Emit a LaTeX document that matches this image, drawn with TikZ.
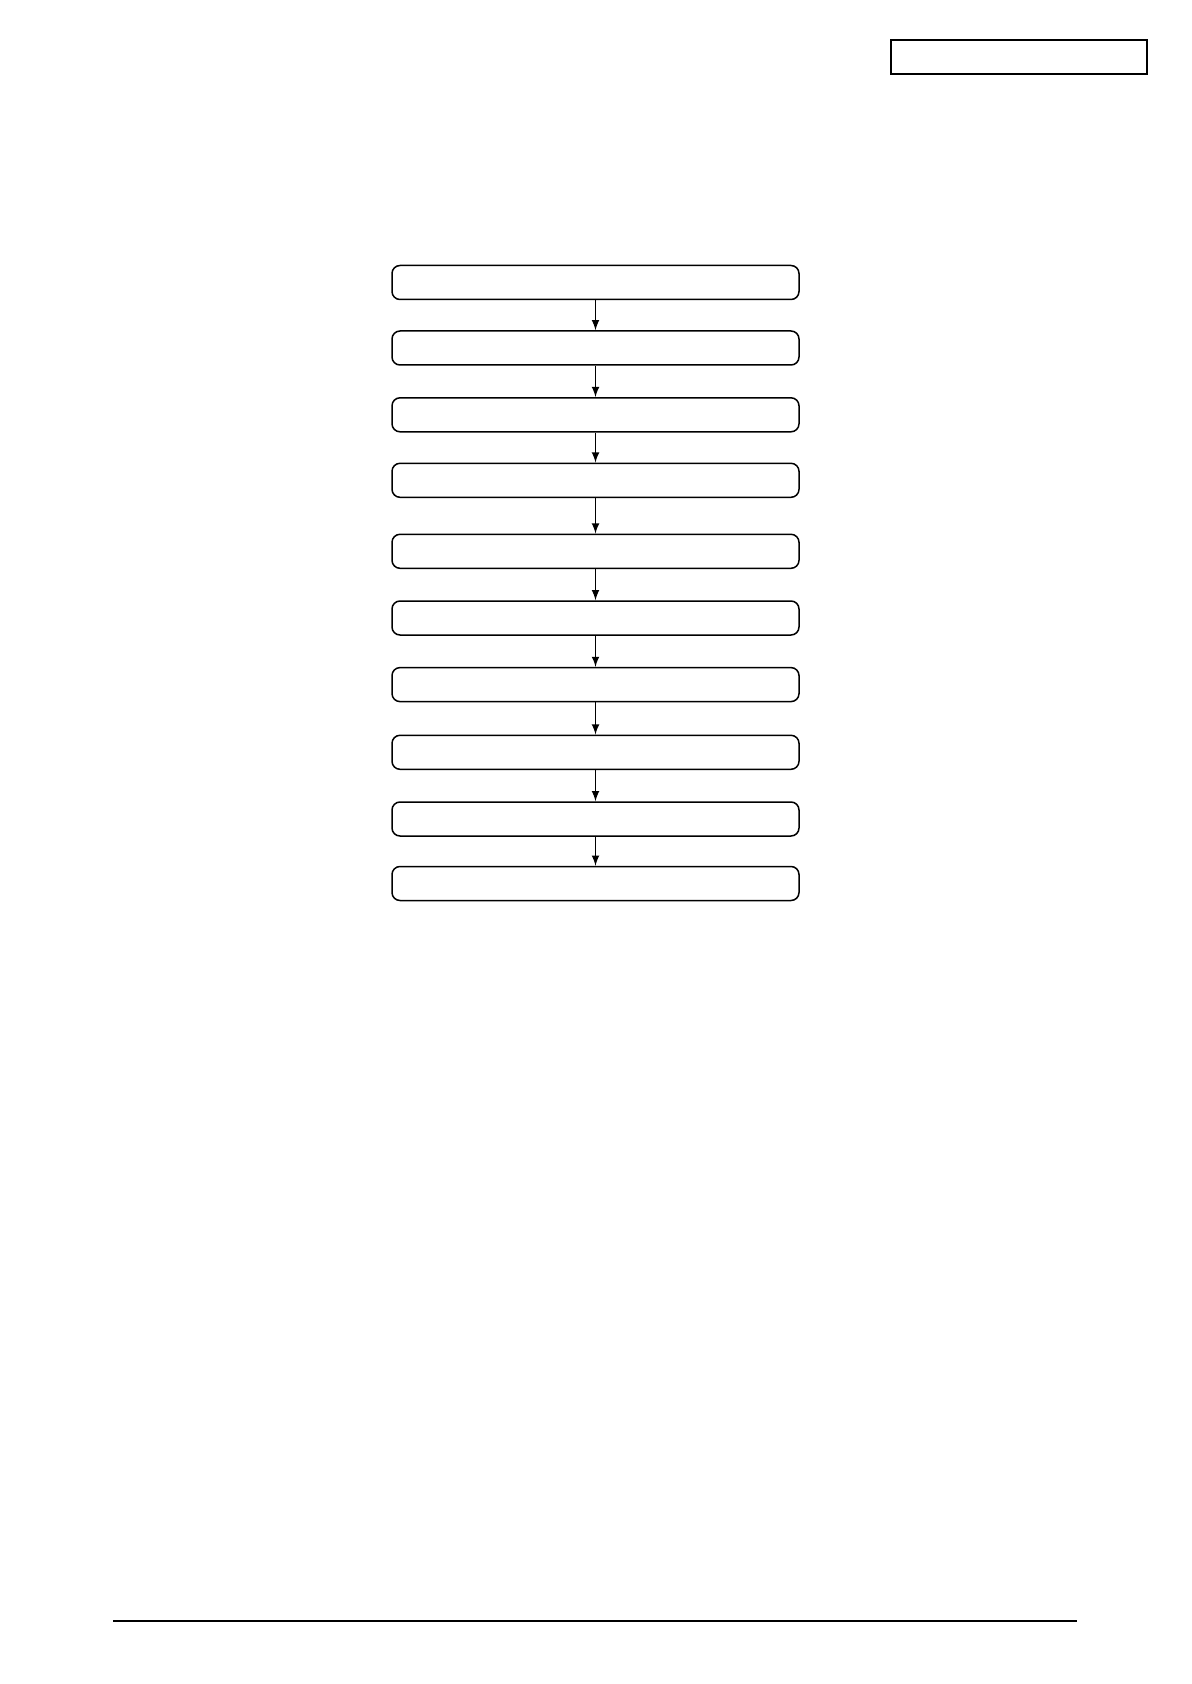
\documentclass[tikz,border=0pt]{standalone}
\begin{document}
\begin{tikzpicture}[thick,
    stage/.style={draw,rectangle,rounded corners=4pt,minimum width=203.5pt,minimum height=17pt,line width=0.75pt}]
        \useasboundingbox (0,0) rectangle (595.5pt,-842pt);
        \node[draw,rectangle,minimum width=128pt,minimum height=17pt,line width=1pt] (hdr) at (509.25pt,-28.5pt) {};

        \node[stage] (s1) at (297.75pt,-141.25pt) {};
         \node[stage,below of=s1, node distance=32.75pt] (s2) {};
         \node[stage,below of=s2, node distance=33.4pt] (s3) {};
         \node[stage,below of=s3, node distance=32.75pt] (s4) {};
         \node[stage,below of=s4, node distance=35.5pt] (s5) {};
         \node[stage,below of=s5, node distance=33.35pt] (s6) {};
         \node[stage,below of=s6, node distance=33.3pt] (s7) {};
         \node[stage,below of=s7, node distance=33.85pt] (s8) {};
         \node[stage,below of=s8, node distance=33.35pt] (s9) {};
         \node[stage,below of=s9, node distance=32.25pt] (s10) {};
         \draw[-latex,line width=0.75pt] (s1) to (s2);
         \draw[-latex,line width=0.75pt] (s2) to (s3);
         \draw[-latex,line width=0.75pt] (s3) to (s4);
         \draw[-latex,line width=0.75pt] (s4) to (s5);
         \draw[-latex,line width=0.75pt] (s5) to (s6);
         \draw[-latex,line width=0.75pt] (s6) to (s7);
         \draw[-latex,line width=0.75pt] (s7) to (s8);
         \draw[-latex,line width=0.75pt] (s8) to (s9);
         \draw[-latex,line width=0.75pt] (s9) to (s10);

        \coordinate (ruleL) at (56.5pt,-810.5pt);
        \coordinate (ruleR) at (538.5pt,-810.5pt);
        \draw[line width=1pt] (ruleL) -- (ruleR);
      \end{tikzpicture}
\end{document}
